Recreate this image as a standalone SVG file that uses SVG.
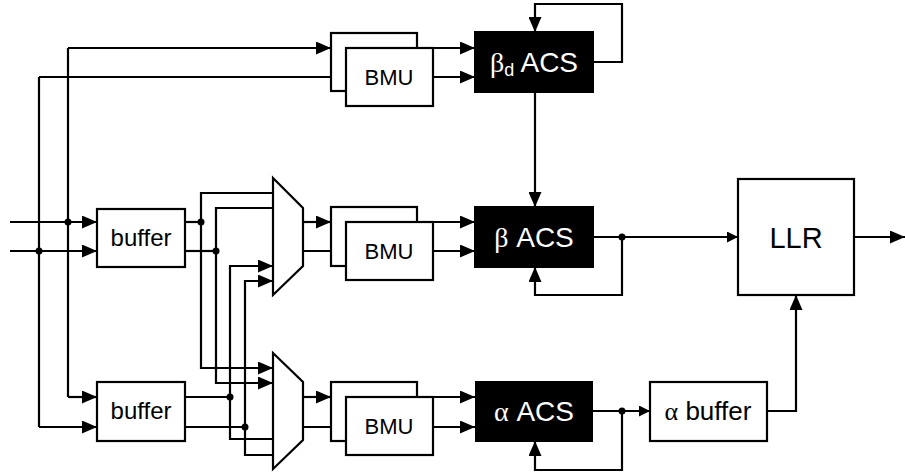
<svg xmlns="http://www.w3.org/2000/svg" width="905" height="474" viewBox="0 0 905 474">
<style>
.w{fill:none;stroke:#000;stroke-width:2.2;marker-end:url(#a)}
.n{fill:none;stroke:#000;stroke-width:2.2}
.s{fill:none;stroke:#000;stroke-width:2.2;marker-end:url(#b)}
.box{fill:#fff;stroke:#000;stroke-width:2.2}
.acs{fill:#000;stroke:#000;stroke-width:2}
.t{font-family:"Liberation Sans",Arial,sans-serif;fill:#000;text-anchor:middle}
.wt{font-family:"Liberation Sans",Arial,sans-serif;fill:#fff;text-anchor:middle;font-size:28px}
.g{font-family:"Liberation Serif","Times New Roman",serif}
.dot{fill:#000}
</style>
<defs>
<marker id="a" markerUnits="userSpaceOnUse" markerWidth="15" markerHeight="13" refX="15" refY="6.5" orient="auto"><path d="M0,0L15,6.5L0,13z" fill="#000"/></marker>
<marker id="b" markerUnits="userSpaceOnUse" markerWidth="11" markerHeight="11" refX="11" refY="5.5" orient="auto"><path d="M0,0L11,5.5L0,11z" fill="#000"/></marker>
</defs>
<g id="connectors">
<path class="w" d="M10,222H97"/>
<path class="w" d="M10,251H97"/>
<path class="w" d="M68,48H331"/>
<path class="w" d="M39,77H346"/>
<path class="n" d="M68,48V397"/>
<path class="w" d="M68,397H97"/>
<path class="n" d="M39,77V427"/>
<path class="w" d="M39,427H97"/>
<path class="n" d="M185,222H201"/>
<path class="n" d="M185,251H216"/>
<path class="w" d="M273,193H201V368H273"/>
<path class="w" d="M273,208H216V383H273"/>
<path class="n" d="M185,397H230"/>
<path class="n" d="M185,427H245"/>
<path class="w" d="M273,439H230V266H273"/>
<path class="w" d="M273,455H245V281H273"/>
<path class="w" d="M303,222H331"/>
<path class="w" d="M303,251H346"/>
<path class="w" d="M303,397H331"/>
<path class="w" d="M303,427H346"/>
<path class="w" d="M433,48H475"/>
<path class="w" d="M433,77H475"/>
<path class="w" d="M433,222H475"/>
<path class="w" d="M433,251H475"/>
<path class="w" d="M433,397H475"/>
<path class="w" d="M433,427H475"/>
<path class="w" d="M593,62H622V4H535V32"/>
<path class="w" d="M535,92V207"/>
<path class="s" d="M593,237H738"/>
<path class="w" d="M622,237V295H535V267"/>
<path class="s" d="M593,411H650"/>
<path class="w" d="M622,411V470H535V441"/>
<path class="w" d="M767,411H796V295"/>
<path class="w" d="M854,237H905"/>
<circle class="dot" cx="68" cy="222" r="3.5"/>
<circle class="dot" cx="39" cy="251" r="3.5"/>
<circle class="dot" cx="201" cy="222" r="3.5"/>
<circle class="dot" cx="216" cy="251" r="3.5"/>
<circle class="dot" cx="230" cy="397" r="3.5"/>
<circle class="dot" cx="245" cy="427" r="3.5"/>
<circle class="dot" cx="622" cy="237" r="3.5"/>
<circle class="dot" cx="622" cy="411" r="3.5"/>
</g>
<g id="buffer1"><rect class="box" x="97" y="209" width="88" height="58"/><text class="t" x="141" y="246" font-size="24">buffer</text></g>
<g id="buffer2"><rect class="box" x="97" y="382" width="88" height="59"/><text class="t" x="141" y="419" font-size="24">buffer</text></g>
<g id="mux1"><polygon class="box" points="273,178 303,208 303,266 273,295"/></g>
<g id="mux2"><polygon class="box" points="273,353 303,382 303,440 273,469"/></g>
<g id="bmu1"><rect class="box" x="331" y="33" width="86" height="58"/><rect class="box" x="346" y="48" width="87" height="58"/><text class="t" x="389" y="85" font-size="22">BMU</text></g>
<g id="bmu2"><rect class="box" x="331" y="207" width="86" height="59"/><rect class="box" x="346" y="222" width="87" height="58"/><text class="t" x="389" y="259" font-size="22">BMU</text></g>
<g id="bmu3"><rect class="box" x="331" y="382" width="86" height="59"/><rect class="box" x="346" y="397" width="87" height="58"/><text class="t" x="389" y="434" font-size="22">BMU</text></g>
<g id="bd_acs"><rect class="acs" x="475" y="32" width="118" height="60"/><text class="wt" x="534" y="72"><tspan class="g">β</tspan><tspan font-size="18" dy="4">d</tspan><tspan dy="-4"> ACS</tspan></text></g>
<g id="b_acs"><rect class="acs" x="475" y="207" width="118" height="60"/><text class="wt" x="534" y="247"><tspan class="g">β</tspan> ACS</text></g>
<g id="a_acs"><rect class="acs" x="476" y="382" width="116" height="59"/><text class="wt" x="534" y="421"><tspan class="g">α</tspan> ACS</text></g>
<g id="a_buffer"><rect class="box" x="650" y="382" width="117" height="59"/><text class="t" x="708" y="420" font-size="26"><tspan class="g">α</tspan> buffer</text></g>
<g id="llr"><rect class="box" x="738" y="179" width="116" height="116"/><text class="t" x="796" y="248" font-size="29">LLR</text></g>
</svg>
